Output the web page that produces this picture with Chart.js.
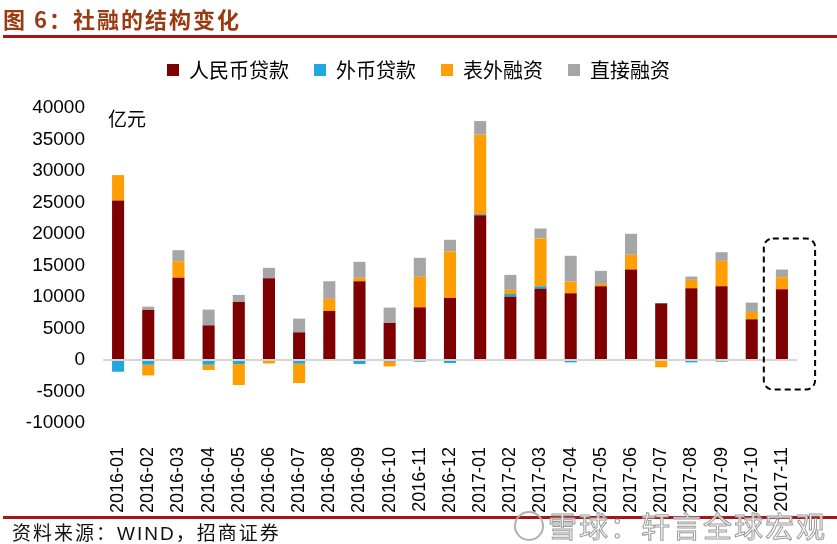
<!DOCTYPE html>
<html>
<head>
<meta charset="utf-8">
<script src="https://cdn.jsdelivr.net/npm/chart.js@4.4.1/dist/chart.umd.min.js"></script>
<style>
    html, body { margin: 0; padding: 0; background: #fff; }
    #wrap { position: relative; width: 837px; height: 544px; overflow: hidden; }
    #chart { position: absolute; left: 0; top: 0; }
    .title { position: absolute; left: 3px; top: 2px; font: bold 22px "Noto Sans CJK SC", sans-serif; color: #9b3a10; letter-spacing: 2px; }
    .rule { position: absolute; left: 3px; right: 0; height: 3px; background: #a5161a; }
    .source { position: absolute; left: 12px; top: 518px; font: 19px "Liberation Sans", "Noto Sans CJK SC", sans-serif; color: #111; letter-spacing: 2px; }
    .mark { position: absolute; left: 548px; top: 504px; font: 29px "Noto Sans CJK SC", sans-serif; color: rgba(255,255,255,0.85); -webkit-text-stroke: 1px #9a9a9a; letter-spacing: 2px; }
    .logo { position: absolute; left: 514px; top: 511px; width: 26px; height: 26px; border: 2px solid #b0b0b0; border-radius: 50%; }
</style>
</head>
<body>
<div id="wrap">
    <canvas id="chart" width="837" height="544"></canvas>
    <div class="title">图 6：社融的结构变化</div>
    <div class="rule" style="top: 35px;"></div>
    <div class="rule" style="top: 516px;"></div>
    <div class="source">资料来源：WIND，招商证券</div>
    <div class="logo"></div>
    <div class="mark">雪球：轩言全球宏观</div>
</div>
<script>
// Data (亿元)
const months = ['2016-01', '2016-02', '2016-03', '2016-04', '2016-05', '2016-06', '2016-07', '2016-08',
    '2016-09', '2016-10', '2016-11', '2016-12', '2017-01', '2017-02', '2017-03', '2017-04',
    '2017-05', '2017-06', '2017-07', '2017-08', '2017-09', '2017-10', '2017-11'];
const rmbLoans = [25330, 7950, 13040, 5500, 9220, 12980, 4390, 7790, 12500, 5880, 8360, 9860,
    22990, 10060, 11290, 10590, 11700, 14360, 9000, 11390, 11700, 6460, 11230];
const fxLoans = [-1860, -750, 0, -750, -640, -150, -590, 0, -640, -270, -270, -480,
    150, 430, 410, -380, 0, 0, 0, -380, -270, 0, 0];
const offBalance = [4020, -1700, 2640, -840, -3340, -400, -3070, 1910, 540, -750, 4840, 7360,
    12630, 640, 7590, 1860, 380, 2340, -1150, 1330, 4040, 1170, 1910];
const directFin = [0, 520, 1750, 2500, 1110, 1650, 2180, 2800, 2540, 2440, 3020, 1860,
    2160, 2380, 1590, 4090, 2070, 3330, 0, 520, 1370, 1480, 1220];
const yTicks = { min: -10000, max: 40000, step: 5000 };

const cjk = "'Noto Sans CJK SC', sans-serif";
const latin = "'Liberation Sans', Arial, sans-serif";

// legend: extra room underneath, and nudged right to sit over the plot
const legendTweak = {
    id: 'legendTweak',
    beforeInit(chart) {
        const lg = chart.legend;
        if (!lg) return;
        const fit = lg.fit;
        lg.fit = function () {
            fit.call(this);
            this.height += 18;
        };
        const draw = lg.draw;
        lg.draw = function () {
            this.ctx.save();
            this.ctx.translate(20, 0);
            draw.call(this);
            this.ctx.restore();
        };
    }
};

// unit label and the dashed box round the latest month
const extras = {
    id: 'extras',
    afterDatasetsDraw(chart) {
        const { ctx, chartArea, scales } = chart;
        ctx.save();
        ctx.font = '19px ' + cjk;
        ctx.fillStyle = '#000';
        ctx.textBaseline = 'middle';
        ctx.fillText('亿元', chartArea.left + 5, chartArea.top + 11);

        const last = months.length - 1;
        const cw = chartArea.width / months.length;
        const cx = scales.x.getPixelForValue(last);
        const l = cx - 0.6 * cw, r = cx + 1.1 * cw;
        const t = scales.y.getPixelForValue(19300), b = scales.y.getPixelForValue(-4700);
        const rad = 9;
        ctx.beginPath();
        ctx.moveTo(l + rad, t);
        ctx.lineTo(r - rad, t);
        ctx.arcTo(r, t, r, t + rad, rad);
        ctx.lineTo(r, b - rad);
        ctx.arcTo(r, b, r - rad, b, rad);
        ctx.lineTo(l + rad, b);
        ctx.arcTo(l, b, l, b - rad, rad);
        ctx.lineTo(l, t + rad);
        ctx.arcTo(l, t, l + rad, t, rad);
        ctx.closePath();
        ctx.setLineDash([6, 4]);
        ctx.lineWidth = 2;
        ctx.strokeStyle = '#000';
        ctx.stroke();
        ctx.restore();
    }
};

const ds = (label, data, color) => ({
    label: label,
    data: data,
    backgroundColor: color,
    borderWidth: 0,
    categoryPercentage: 0.8,
    barPercentage: 0.5
});

new Chart(document.getElementById('chart'), {
    type: 'bar',
    data: {
        labels: months,
        datasets: [
            ds('人民币贷款', rmbLoans, '#7f0000'),
            ds('外币贷款', fxLoans, '#1ea8e0'),
            ds('表外融资', offBalance, '#ff9e00'),
            ds('直接融资', directFin, '#a6a6a6')
        ]
    },
    options: {
        responsive: false,
        animation: false,
        layout: { padding: { top: 35, left: 0, right: 40, bottom: 26 } },
        plugins: {
            tooltip: { enabled: false },
            legend: {
                position: 'top',
                labels: {
                    boxWidth: 12,
                    boxHeight: 12,
                    padding: 25,
                    color: '#000',
                    font: { family: cjk, size: 20 }
                }
            }
        },
        scales: {
            x: {
                stacked: true,
                grid: { display: false },
                border: { display: false },
                ticks: {
                    autoSkip: false,
                    minRotation: 90,
                    maxRotation: 90,
                    padding: 16,
                    color: '#000',
                    font: { family: latin, size: 18 }
                },
                afterFit(scale) { scale.height = 95; }
            },
            y: {
                stacked: true,
                min: yTicks.min,
                max: yTicks.max,
                border: { display: false },
                grid: {
                    drawTicks: false,
                    lineWidth: 2,
                    color: (c) => (c.tick && c.tick.value === 0 ? '#d6d6d6' : 'rgba(0,0,0,0)')
                },
                ticks: {
                    stepSize: yTicks.step,
                    padding: 18,
                    color: '#000',
                    font: { family: latin, size: 19 },
                    callback: (v) => String(v)
                },
                afterFit(scale) { scale.width = 103; }
            }
        }
    },
    plugins: [legendTweak, extras]
});
</script>
</body>
</html>
